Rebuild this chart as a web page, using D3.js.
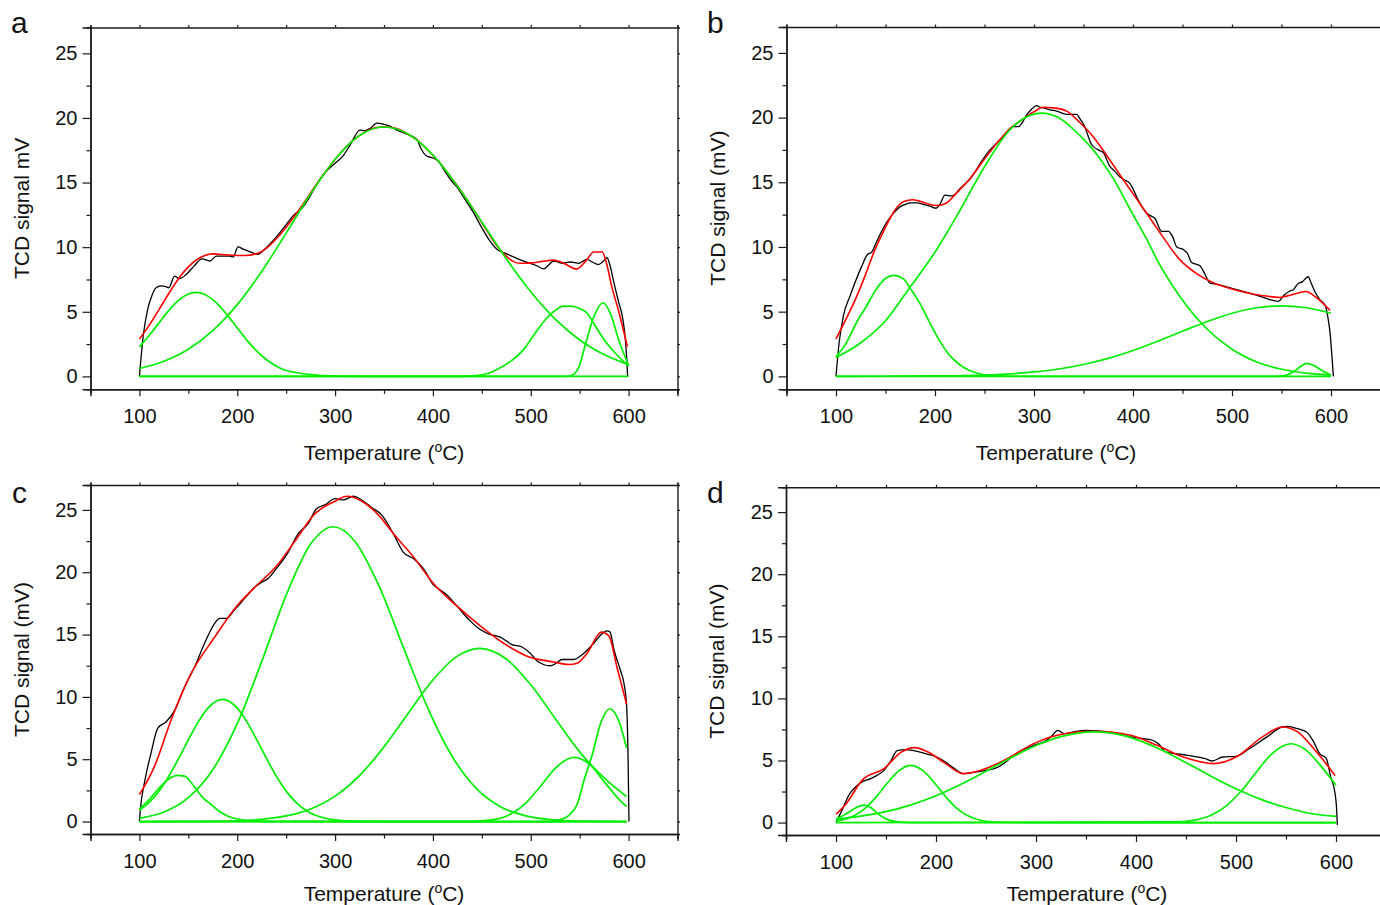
<!DOCTYPE html>
<html>
<head>
<meta charset="utf-8">
<script src="https://cdn.jsdelivr.net/npm/d3@7"></script>
<style>
  body { margin: 0; background: #fff; }
  svg { display: block; font-family: "Liberation Sans", Arial, sans-serif; }
</style>
</head>
<body>
<div id="chart"></div>
<script>
// ---- data: [temperature degC, signal mV] ----
var xTicks = [100, 200, 300, 400, 500, 600];
var yTicks = [0, 5, 10, 15, 20, 25];

// panel a
var aMeasured = [[100,0],[104,3.2],[108.5,5.2],[113,6.3],[117,6.86],[122,7.0],[127,6.95],[130,6.86],[136,7.76],[141,7.56],[148,7.9],[156,8.55],[164,9.1],[172,8.93],[178.5,9.3],[185,9.3],[192,9.3],[196,9.25],[200.7,10.03],[206,9.85],[211,9.7],[216,9.55],[221,9.44],[226,9.7],[231.5,10.1],[240,10.8],[248.6,11.6],[258,12.5],[266,13.0],[272.5,13.7],[280,14.7],[290,15.8],[300,16.5],[308,17.05],[316,18.0],[325.4,19.06],[330,19.0],[336,19.2],[342.5,19.6],[348,19.55],[354.5,19.4],[365,19.0],[375,18.7],[383.5,18.34],[388,17.6],[393.7,17.05],[400,16.9],[405.6,16.66],[412,15.9],[419.3,15.1],[425,14.6],[432,13.8],[441.5,12.67],[450,11.5],[458,10.5],[465.4,9.83],[475,9.5],[490,9.0],[505,8.6],[513.3,8.32],[518,8.6],[523.5,8.93],[528,8.85],[532,8.75],[536,8.8],[540.7,8.85],[545,8.8],[549,8.75],[553,8.9],[557.4,9.05],[563,8.85],[569,8.65],[574,8.9],[578,9.18],[581,8.6],[585,7.25],[590,5.7],[594,4.5],[597,2.6],[598.5,0.8],[599,0]];
var aFit = [[100,2.9],[110,3.95],[120,5.17],[130,6.41],[140,7.56],[150,8.47],[160,9.1],[175,9.48],[190,9.4],[207.6,9.35],[224.7,9.65],[241.7,10.8],[250,11.55],[265.6,13.15],[280,14.76],[293,16.1],[305,17.25],[318,18.24],[330,18.88],[340,19.22],[350,19.3],[362,19.2],[372,18.86],[383.5,18.3],[395,17.5],[405,16.7],[415,15.75],[425,14.75],[435,13.65],[445,12.5],[455,11.3],[465.4,10.1],[475,9.3],[482,8.9],[489.3,8.75],[496,8.75],[503,8.8],[512,8.9],[523.5,9.0],[535,8.7],[546.8,8.3],[556,8.9],[564.4,9.62],[573,9.62],[578,8.6],[582,7.2],[590,5.0],[598.8,2.3]];
var aPeak1 = [[100,2.28],[110,3.16],[120,4.14],[130,5.09],[140,5.88],[150,6.37],[158,6.5],[170,6.21],[180,5.59],[190,4.72],[200,3.75],[210,2.79],[220,1.96],[230,1.29],[240,0.79],[250,0.46],[260,0.3],[275,0.13],[300,0.02],[350,0],[600,0]];
var aPeak2 = [[100,0.61],[125,1.17],[150,2.1],[175,3.54],[200,5.55],[225,8.12],[250,11.09],[275,14.13],[300,16.8],[325,18.64],[350,19.3],[375,18.73],[400,17.12],[425,14.73],[450,11.94],[475,9.1],[500,6.55],[525,4.43],[550,2.82],[575,1.69],[600,0.9]];
var aPeak3 = [[100,0],[420,0],[440,0.04],[455,0.2],[465,0.52],[480,1.2],[492.8,2.09],[505,3.4],[516.7,4.54],[525,5.1],[533,5.44],[541,5.44],[550,5.25],[557,4.93],[566,3.9],[574.5,2.9],[587,1.75],[600,0.8]];
var aPeak4 = [[100,0],[535,0],[541,0.05],[549,0.7],[556,2.5],[564.4,4.6],[574,5.7],[581.5,4.85],[590,2.8],[600,0.85]];

// panel b
var bMeasured = [[100,0],[103,2.5],[107.4,4.65],[114.1,6.2],[120,7.4],[125.9,8.5],[131.6,9.4],[136,9.6],[141,10.4],[146,11.2],[151.2,11.9],[158,12.6],[164.6,13.1],[170,13.3],[176.4,13.4],[182,13.4],[188.2,13.3],[195,13.15],[201,13.0],[205,13.3],[210.1,14.0],[216.8,13.95],[220,14.05],[225.2,14.5],[231,14.9],[237,15.4],[246,16.5],[255.5,17.5],[262,18.0],[269,18.5],[279,19.3],[284.2,19.3],[288,19.6],[292.6,20.2],[297,20.6],[302.7,20.93],[306,20.8],[309.4,20.75],[316,20.6],[322.9,20.5],[333,20.25],[343,20.25],[346.5,19.9],[350,19.5],[358.3,17.9],[365,17.5],[370,17.3],[376.8,16.2],[381,15.9],[386.9,15.4],[391,15.2],[397,14.9],[405.4,13.6],[413.8,12.6],[418,12.4],[422.2,12.2],[429,11.2],[435.7,11.2],[440,10.8],[444.2,10.0],[450.9,9.8],[455,9.5],[459.3,8.8],[467.7,8.55],[472,8.0],[477.8,7.2],[481.1,7.16],[500,6.8],[514.8,6.5],[530,6.15],[546.8,5.8],[553,6.3],[558.6,6.6],[562,6.7],[567.1,7.2],[571,7.3],[574.8,7.6],[577,7.7],[580,7.2],[584,6.5],[589,5.9],[594,5.5],[597,4.5],[599,3.4],[601,1.5],[602.4,0]];
var bFit = [[100,2.9],[110,4.4],[121,6.2],[130,7.9],[138,9.54],[146,10.9],[154.5,12.2],[162,13.1],[168,13.5],[178,13.65],[190,13.4],[201.6,13.2],[211.7,13.4],[222,14.2],[235.4,15.3],[250,16.8],[262.3,18.0],[275,19.1],[289.2,19.9],[300,20.45],[309.4,20.8],[320,20.75],[333,20.5],[346.5,19.6],[360,18.5],[375,16.9],[390.2,15.2],[413.8,12.6],[430,10.8],[447.5,9.0],[465,7.9],[481.1,7.23],[500,6.75],[514.8,6.46],[530,6.25],[548.5,6.1],[555.2,6.2],[565,6.4],[574.4,6.56],[585,6.1],[599,5.1]];
var bPeak1 = [[100,1.51],[110,2.53],[121,4.2],[130,5.32],[140,6.66],[150,7.56],[158,7.8],[168.7,7.5],[175,6.8],[185,5.6],[195,4.1],[205,2.7],[215,1.6],[225,0.9],[235,0.45],[245,0.2],[255,0.08],[275,0.01],[300,0],[600,0]];
var bPeak2 = [[100,1.45],[125,2.6],[150,4.3],[173,6.7],[200,9.6],[225,12.8],[250,16.2],[275,19.0],[300,20.27],[308,20.35],[325,19.99],[346.5,18.6],[365,17.0],[380,15.3],[400,12.5],[413.8,10.6],[425,8.9],[447.5,6.15],[475,3.64],[500,2.09],[525,1.11],[550,0.55],[575,0.25],[600,0.11]];
var bPeak3 = [[100,0],[150,0.01],[200,0.03],[250,0.1],[300,0.34],[325,0.57],[350,0.92],[375,1.39],[400,2.0],[425,2.72],[450,3.49],[475,4.24],[500,4.88],[525,5.3],[550,5.45],[575,5.3],[600,4.88]];
var bPeak4 = [[100,0],[545,0],[555,0.1],[563,0.4],[570,0.8],[575.4,1.0],[582,0.86],[590,0.5],[600,0.1]];

// panel c
var cMeasured = [[100,0],[101,1.0],[105.1,3.1],[111.9,5.5],[118.8,7.5],[127.3,8.0],[135.9,8.9],[146.1,10.8],[156.4,12.4],[166.6,14.3],[176.9,15.9],[182,16.3],[188.8,16.3],[197.4,17.0],[207.6,17.9],[217.8,18.8],[225,19.2],[231.5,19.5],[240,20.3],[252,21.6],[262.3,23.1],[272.5,23.9],[281,25.1],[289.6,25.4],[299.8,25.9],[308.3,25.8],[318.6,26.1],[327.2,25.8],[337.4,25.2],[347.6,24.6],[359.5,23.1],[369.8,21.6],[380,21.1],[390.2,20.3],[400.5,19.0],[407,18.6],[414.1,18.2],[424.4,17.3],[438,16.1],[448.4,15.4],[458.6,15.0],[468.8,14.8],[480.8,14.2],[491,14.0],[499.5,13.5],[506.3,12.9],[513,12.6],[520,12.5],[526,12.7],[532,13.0],[543.9,13.0],[554.2,13.5],[564.4,14.3],[572,15.0],[578.1,15.3],[581,15.2],[585,13.8],[591.8,12.1],[595,11.2],[598,9.3],[599.5,5],[600.4,0]];
var cFit = [[100,2.16],[115.4,4.43],[132.5,8.17],[153,11.9],[177,14.8],[197.5,17.1],[218,18.8],[240.2,20.5],[259,22.5],[279.5,24.7],[300,25.7],[312,26.1],[327.4,25.7],[345.9,24.46],[359.5,23.1],[380,21.25],[400.5,19.1],[424.4,17.3],[448.4,15.7],[472.3,14.3],[496.2,13.27],[523.5,12.8],[538.9,12.6],[547.4,12.7],[557.6,13.5],[572.3,15.2],[579.8,14.9],[588.4,12.3],[598,9.4]];
var cPeak1 = [[100,1.0],[110,1.77],[120,2.67],[130,3.41],[139,3.7],[146,3.65],[156,2.8],[165,1.9],[173.4,1.36],[182,0.8],[190.5,0.43],[200,0.2],[215,0.05],[235,0],[598,0]];
var cPeak2 = [[100,0.91],[110,1.54],[120,2.44],[130,3.63],[140,5.04],[150,6.55],[160,7.98],[170,9.1],[185,9.8],[200,9.1],[210,7.98],[220,6.55],[230,5.04],[240,3.63],[250,2.44],[260,1.54],[270,0.91],[280,0.5],[290,0.26],[300,0.13],[320,0.02],[350,0],[598,0]];
var cPeak3 = [[100,0.26],[125,0.76],[150,1.92],[175,4.16],[200,7.85],[225,12.83],[250,18.16],[275,22.26],[298,23.65],[320,22.51],[345,18.88],[370,13.93],[395,9.06],[420,5.18],[445,2.6],[470,1.15],[495,0.45],[520,0.15],[550,0.03],[598,0]];
var cPeak4 = [[100,0],[175,0.01],[200,0.06],[225,0.18],[250,0.45],[275,1.01],[300,2.04],[325,3.69],[350,5.99],[375,8.71],[400,11.36],[425,13.27],[448,13.9],[475,13.04],[500,10.97],[525,8.27],[550,5.59],[575,3.5],[598,2.0]];
var cPeak5 = [[100,0],[440,0.02],[460,0.13],[480,0.62],[495,1.48],[510,2.83],[525,4.27],[544,5.15],[560,4.6],[575,3.2],[590,1.8],[598,1.2]];
var cPeak6 = [[100,0],[520,0],[527,0.1],[539,0.5],[547.6,1.4],[554.4,3.3],[563,5.4],[571.5,7.9],[581,9.05],[589.3,8.2],[598,5.9]];

// panel d
var dMeasured = [[100,0],[103,0.5],[106,1.0],[112.8,2.2],[120,2.9],[126,3.27],[134.8,3.54],[141,3.8],[148,4.2],[155,5.0],[161.2,5.8],[170,5.87],[183.2,5.69],[192,5.5],[200.8,5.28],[210,4.85],[218.4,4.35],[227.2,3.94],[240.4,4.08],[250,4.2],[262.4,4.48],[270,4.9],[280,5.55],[297.6,6.22],[310.8,6.63],[316,7.0],[321.8,7.43],[328.4,7.16],[340,7.35],[350.4,7.43],[372.4,7.3],[394.5,6.9],[416.5,6.63],[423,6.3],[429.7,5.69],[451.7,5.42],[469.3,5.15],[475.9,4.96],[486.9,5.28],[500.1,5.34],[513.3,5.95],[530.9,6.9],[546.3,7.7],[552,7.75],[561.7,7.56],[570.5,7.3],[577,6.6],[583.7,5.55],[590.3,5.15],[594.7,3.67],[599.1,2.33],[601,0.5],[601.3,-0.2]];
var dFit = [[100,0.67],[110,1.5],[126,3.4],[148,4.35],[165.6,5.69],[178.8,6.04],[192,5.69],[209.6,4.75],[227.2,3.94],[244.8,4.21],[271.2,5.15],[297.6,6.36],[328.4,7.16],[359.2,7.35],[394.5,7.03],[420.9,6.22],[447.3,5.28],[478.1,4.75],[500.1,5.28],[526.5,6.9],[546.3,7.7],[561.7,7.3],[579.3,5.8],[599.1,3.8]];
var dPeak1 = [[100,0.3],[110,0.7],[120,1.2],[128,1.4],[135,1.2],[142,0.7],[150,0.3],[160,0.07],[175,0],[600,0]];
var dPeak2 = [[100,0.11],[110,0.29],[120,0.63],[130,1.21],[140,2.05],[150,3.05],[160,3.97],[175,4.6],[190,3.97],[200,3.05],[210,2.05],[220,1.21],[230,0.63],[240,0.29],[250,0.11],[265,0.02],[300,0],[600,0]];
var dPeak3 = [[100,0.28],[125,0.52],[150,0.88],[175,1.43],[200,2.16],[225,3.08],[250,4.13],[275,5.22],[300,6.2],[325,6.92],[358,7.3],[375,7.2],[400,6.7],[425,5.86],[450,4.83],[475,3.74],[500,2.73],[525,1.87],[550,1.21],[575,0.73],[600,0.5]];
var dPeak4 = [[100,0],[440,0.05],[460,0.22],[475,0.59],[490,1.33],[505,2.52],[520,4.03],[535,5.48],[555,6.35],[570,5.84],[585,4.55],[600,3.0]];

// ---- layout ----
var W = 1380, H = 905;
var svg = d3.select("#chart").append("svg").attr("width", W).attr("height", H);

var panels = [
  { letter: "a", lx: 11, ly: 33, box: [90.5, 677.5, 27.5, 389.3], titleX: 384, titleY: 459.5, yTitle: "TCD signal mV",
    measured: aMeasured, fit: aFit, peaks: [aPeak1, aPeak2, aPeak3, aPeak4] },
  { letter: "b", lx: 707, ly: 33, box: [786.5, 1380.5, 27, 389.3], titleX: 1056, titleY: 459.5, yTitle: "TCD signal (mV)",
    measured: bMeasured, fit: bFit, peaks: [bPeak1, bPeak2, bPeak3, bPeak4] },
  { letter: "c", lx: 12, ly: 503, box: [90.5, 677.5, 485, 834], titleX: 384, titleY: 900.5, yTitle: "TCD signal (mV)",
    measured: cMeasured, fit: cFit, peaks: [cPeak1, cPeak2, cPeak3, cPeak4, cPeak5, cPeak6] },
  { letter: "d", lx: 707, ly: 503, box: [786, 1386, 487.3, 835], titleX: 1087, titleY: 900.5, yTitle: "TCD signal (mV)",
    measured: dMeasured, fit: dFit, peaks: [dPeak1, dPeak2, dPeak3, dPeak4] }
];

var axisColor = "#1a1a1a";

panels.forEach(function (p) {
  var left = p.box[0], right = p.box[1], top = p.box[2], bottom = p.box[3];

  var x = d3.scaleLinear().domain([50, 650]).range([left, right]);
  var y = d3.scaleLinear().domain([-1, 27]).range([bottom, top]);

  var g = svg.append("g");

  // bottom axis: major + minor ticks
  var xMinor = d3.range(50, 651, 50).filter(function (v) { return xTicks.indexOf(v) < 0; });
  var bx = g.append("g").attr("transform", "translate(0," + bottom + ")")
    .call(d3.axisBottom(x).tickValues(xTicks).tickSize(7).tickPadding(13).tickFormat(d3.format("d")));
  bx.append("g").call(d3.axisBottom(x).tickValues(xMinor).tickSize(4.5).tickFormat(""));

  // left axis
  var yMinor = d3.range(2.5, 26, 5);
  var ly = g.append("g").attr("transform", "translate(" + left + ",0)")
    .call(d3.axisLeft(y).tickValues(yTicks).tickSize(8).tickPadding(5));
  ly.append("g").call(d3.axisLeft(y).tickValues(yMinor).tickSize(4).tickFormat(""));

  // top and right frame with small ticks
  g.append("g").attr("transform", "translate(0," + top + ")")
    .call(d3.axisTop(x).tickValues(d3.range(50, 651, 50)).tickSize(2.5).tickFormat(""));
  g.append("g").attr("transform", "translate(" + right + ",0)")
    .call(d3.axisRight(y).tickValues(d3.range(0, 26, 2.5)).tickSize(2.5).tickFormat(""));

  g.selectAll(".domain").attr("stroke", axisColor).attr("stroke-width", 1.4);
  g.selectAll(".tick line").attr("stroke", axisColor).attr("stroke-width", 1.2);
  g.selectAll(".tick text").attr("fill", "#111").style("font-size", "20px")
    .style("font-family", "'Liberation Sans', Arial, sans-serif");

  // curves
  var line = d3.line()
    .x(function (d) { return x(d[0]); })
    .y(function (d) { return y(d[1]); })
    .curve(d3.curveMonotoneX);

  g.append("path").datum(p.measured).attr("d", line)
    .attr("fill", "none").attr("stroke", "#000").attr("stroke-width", 1.3);
  g.append("path").datum(p.fit).attr("d", line)
    .attr("fill", "none").attr("stroke", "#ff0000").attr("stroke-width", 1.6);
  p.peaks.forEach(function (pk) {
    g.append("path").datum(pk).attr("d", line)
      .attr("fill", "none").attr("stroke", "#00ee00").attr("stroke-width", 1.7);
  });

  // axis titles
  var xt = g.append("text")
    .attr("x", p.titleX)
    .attr("y", p.titleY)
    .attr("text-anchor", "middle")
    .style("font-size", "21px").attr("fill", "#111");
  xt.append("tspan").text("Temperature (");
  xt.append("tspan").attr("dy", -8).style("font-size", "14px").text("o");
  xt.append("tspan").attr("dy", 8).text("C)");

  g.append("text")
    .attr("transform", "translate(" + (left - 62) + "," + ((top + bottom) / 2) + ") rotate(-90)")
    .attr("text-anchor", "middle")
    .style("font-size", "21px").attr("fill", "#111")
    .text(p.yTitle);

  // panel letter
  g.append("text").attr("x", p.lx).attr("y", p.ly)
    .style("font-size", "30px").attr("fill", "#111").text(p.letter);
});
</script>
</body>
</html>
